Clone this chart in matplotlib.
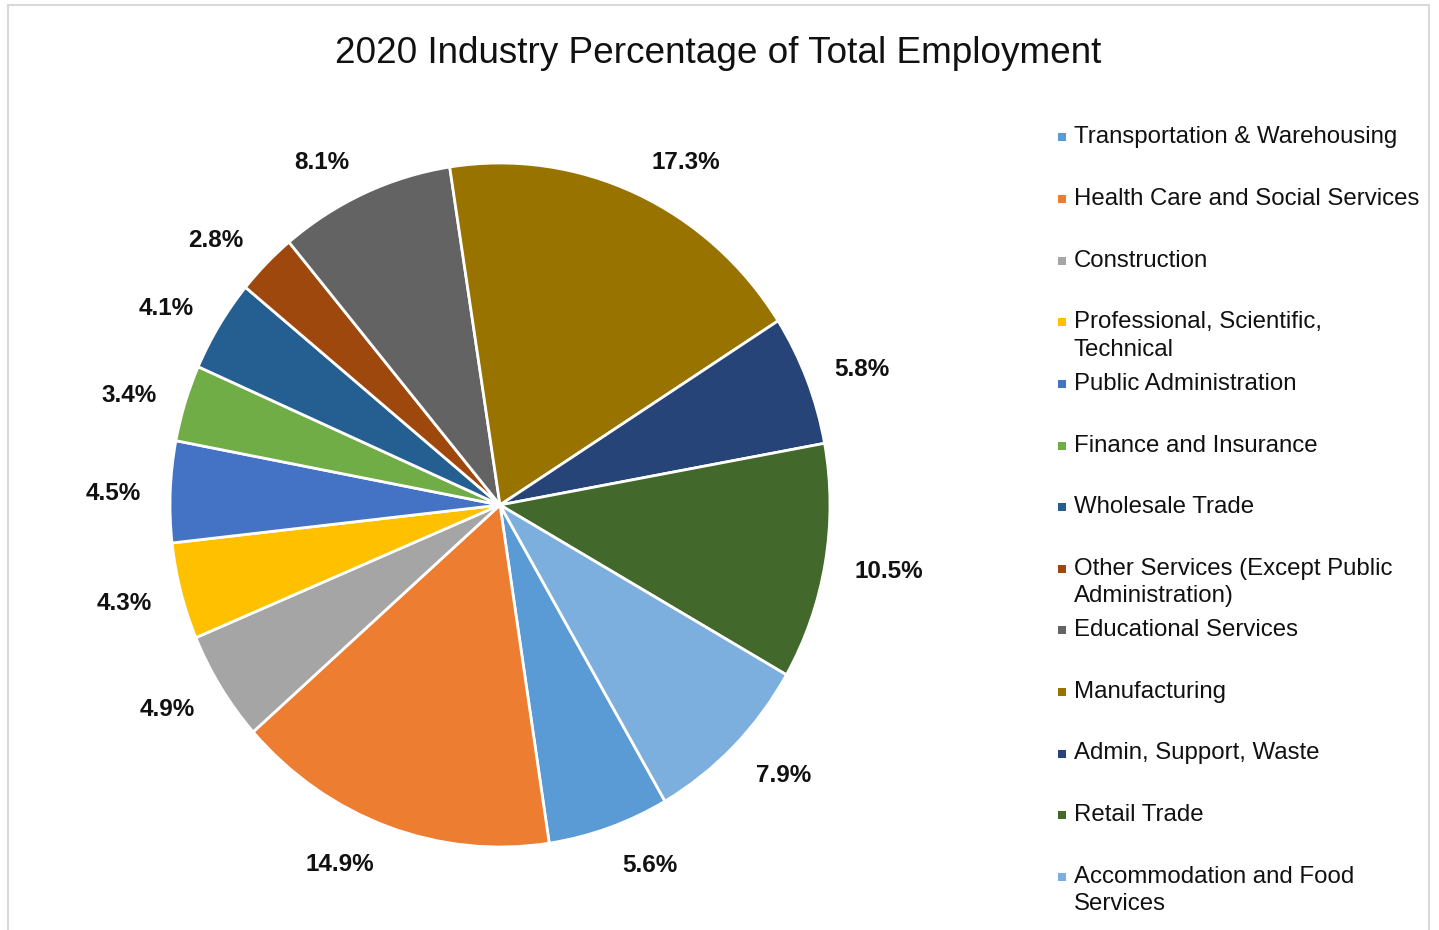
import numpy as np
import matplotlib.pyplot as plt
from matplotlib.patches import Rectangle
from matplotlib.transforms import ScaledTranslation

# ======= Dados =======
industries = [
    'Transportation & Warehousing',
    'Health Care and Social Services',
    'Construction',
    'Professional, Scientific,\nTechnical',
    'Public Administration',
    'Finance and Insurance',
    'Wholesale Trade',
    'Other Services (Except Public\nAdministration)',
    'Educational Services',
    'Manufacturing',
    'Admin, Support, Waste',
    'Retail Trade',
    'Accommodation and Food\nServices',
]
percentages = [5.6, 14.9, 4.9, 4.3, 4.5, 3.4, 4.1, 2.8, 8.1, 17.3, 5.8, 10.5, 7.9]
colors = ['#5B9BD5', '#ED7D31', '#A5A5A5', '#FFC000', '#4472C4', '#70AD47',
          '#255E91', '#9E480E', '#636363', '#997300', '#264478', '#43682B',
          '#7CAFDD']
title = '2020 Industry Percentage of Total Employment'

W, H = 1439, 930
fig = plt.figure(figsize=(W / 100, H / 100), dpi=100)
plt.rcParams['font.family'] = ['Liberation Sans', 'DejaVu Sans']

# borda do gráfico
fig.patches.append(Rectangle((8 / W, -0.01), (1429 - 8) / W, 1.01 - 5 / H,
                             transform=fig.transFigure, fill=False,
                             edgecolor='#D9D9D9', linewidth=1.5))

# pizza (levemente esticada na vertical, como no original)
cx, cy, rx, ry = 500, 505, 330, 342
ax = fig.add_axes([(cx - rx) / W, (H - cy - ry) / H, 2 * rx / W, 2 * ry / H])
wedges, texts = ax.pie(percentages, colors=colors, startangle=-60,
                       counterclock=False, radius=1,
                       labels=[f'{p:.1f}%' for p in percentages],
                       labeldistance=1.07,
                       wedgeprops=dict(edgecolor='white', linewidth=2))
# rótulos fora da fatia, estilo Excel
for t in texts:
    x, y = t.get_position()
    ang = np.arctan2(y, x)
    dx = 6 if x > 0 else -6
    dy = 13 * np.sin(ang) - 3
    t.set_transform(t.get_transform()
                    + ScaledTranslation(dx / 100, dy / 100, fig.dpi_scale_trans))
    t.set_ha('left' if x > 0 else 'right')
    t.set_va('center')
    t.set_fontsize(17.5)
    t.set_fontweight('bold')
    t.set_color('#111111')
ax.set_xlim(-1, 1)
ax.set_ylim(-1, 1)
ax.set_aspect('auto')

fig.text(718 / W, 1 - 63 / H, title, ha='center', va='baseline',
         fontsize=26.6, color='#111111')

# legenda
y0, pitch = 137.5, 61.6
for i, (name, c) in enumerate(zip(industries, colors)):
    y = y0 + i * pitch
    fig.patches.append(Rectangle((1058 / W, 1 - (y + 4) / H), 8 / W, 8 / H,
                                 transform=fig.transFigure, facecolor=c,
                                 edgecolor='none'))
    fig.text(1074 / W, 1 - (y - 11) / H, name, ha='left', va='top',
             fontsize=17.3, color='#111111', linespacing=1.33)

plt.savefig('out.png', dpi=100)
